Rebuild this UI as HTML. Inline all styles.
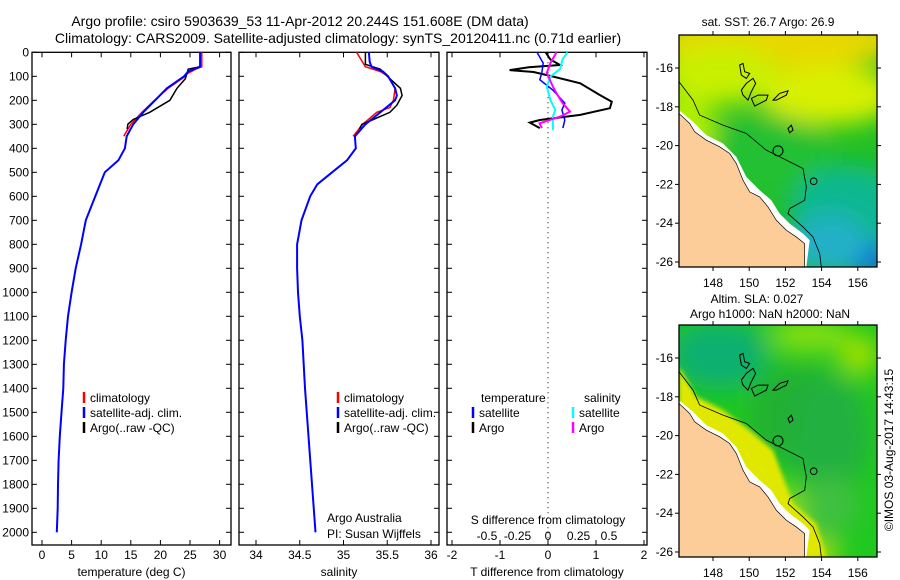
<!DOCTYPE html>
<html><head><meta charset="utf-8">
<style>
html,body{margin:0;padding:0;background:#fff;}
svg{display:block;font-family:"Liberation Sans",sans-serif;}
</style></head>
<body>
<svg id="fig" width="900" height="580" viewBox="0 0 900 580" xmlns="http://www.w3.org/2000/svg">
<defs>
<filter id="blur" x="-50%" y="-50%" width="200%" height="200%"><feGaussianBlur stdDeviation="12"/></filter>
<filter id="blur2" x="-50%" y="-50%" width="200%" height="200%"><feGaussianBlur stdDeviation="6"/></filter>
<clipPath id="clipTop"><rect x="679" y="35" width="198" height="232"/></clipPath>
<clipPath id="clipBot"><rect x="679" y="325" width="198" height="232"/></clipPath>
</defs>
<text x="300" y="26" font-size="14" text-anchor="middle">Argo profile: csiro 5903639_53 11-Apr-2012 20.244S 151.608E (DM data)</text>
<text x="338" y="43" font-size="14" text-anchor="middle">Climatology: CARS2009. Satellite-adjusted climatology: synTS_20120411.nc (0.71d earlier)</text>
<g id="panels"></g>
<g id="maps"></g>
<text transform="translate(893,450) rotate(-90)" font-size="12" text-anchor="middle">©IMOS 03-Aug-2017 14:43:15</text>
</svg>
<script>
// ---------- data ----------
const depthTicks=[0,100,200,300,400,500,600,700,800,900,1000,1100,1200,1300,1400,1500,1600,1700,1800,1900,2000];
const tempTicks=[0,5,10,15,20,25,30];
const salTicks=[34,34.5,35,35.5,36];
const tdiffTicks=[-2,-1,0,1,2];
const sdiffTicks=[-0.5,-0.25,0,0.25,0.5];

const tempSatDepth=[0,60,80,100,150,200,250,300,350,400,450,500,600,700,800,900,1000,1100,1200,1300,1400,1500,1600,1700,1800,1900,2000];
const tempSatVal=[26.7,26.7,24.7,24.0,21.1,19.1,17.1,15.4,14.3,14.0,12.9,10.6,9.0,7.4,6.6,5.7,5.0,4.4,4.0,3.7,3.6,3.3,3.0,2.8,2.7,2.65,2.5];
const tempClimDepth=[0,60,70,90,100,150,200,250,300,350];
const tempClimVal=[27.0,27.0,26.0,24.5,24.2,21.3,19.0,16.9,15.0,13.8];
const tempArgoDepth=[0,60,70,110,150,200,250,280,300,320];
const tempArgoVal=[26.7,26.7,24.7,24.2,22.8,21.6,18.2,15.4,14.5,14.4];

const salSatDepth=[0,40,60,80,100,150,180,200,250,300,350,400,450,500,550,600,700,800,900,1000,1100,1200,1400,1600,1800,2000];
const salSatVal=[35.29,35.3,35.32,35.45,35.51,35.59,35.61,35.59,35.42,35.25,35.13,35.14,35.04,34.87,34.7,34.62,34.52,34.47,34.47,34.48,34.5,34.53,34.56,34.6,34.64,34.68];
const salClimDepth=[0,30,60,80,100,150,200,230,250,300,350];
const salClimVal=[35.15,35.2,35.25,35.42,35.51,35.59,35.57,35.53,35.38,35.22,35.11];
const salArgoDepth=[0,50,70,100,150,180,220,250,280,300,320];
const salArgoVal=[35.25,35.25,35.42,35.5,35.65,35.67,35.61,35.53,35.34,35.21,35.18];

const tdArgoDepth=[0,30,53,62,74,82,101,129,178,206,233,261,282,293,316];
const tdArgoVal=[-0.05,0.05,0.25,-0.4,-0.8,-0.3,0.1,0.67,1.08,1.33,1.29,0.67,-0.17,-0.38,-0.17];
const tdSatDepth=[0,45,86,114,157,212,240,282,316];
const tdSatVal=[-0.23,-0.1,-0.13,-0.17,0.1,0.35,0.29,0.35,0.31];
const sdArgoDepth=[0,45,86,143,171,212,247,268,296,316];
const sdArgoVal=[0.07,0.02,-0.01,0.04,0.07,0.12,0.18,0.1,-0.07,-0.05];
const sdSatDepth=[0,28,69,101,143,199,240,268,324];
const sdSatVal=[0.16,0.12,0.1,0.02,-0.01,0.02,0.06,0.04,0.04];

const mapLonTicks=[148,150,152,154,156];
const mapLatTicks=[-16,-18,-20,-22,-24,-26];

// ---------- helpers ----------
const NS='http://www.w3.org/2000/svg';
function mk(tag,attrs,parent){const e=document.createElementNS(NS,tag);for(const k in attrs)e.setAttribute(k,attrs[k]);parent.appendChild(e);return e;}
const panels=document.getElementById('panels');
const TOP=52.3, BOT=545, PXD=0.24;
const yD=d=>TOP+d*PXD;

function drawPanel(name,x0,x1,xs,ticks,labelFmt,xtitle,showY){
  const g=mk('g',{},panels);
  
  
  const r=mk('rect',{x:x0,y:TOP,width:x1-x0,height:BOT-TOP,fill:'none',stroke:'#000','stroke-width':1.3},g);
  
  
  depthTicks.forEach(d=>{
    mk('line',{x1:x0,x2:x0+5,y1:yD(d),y2:yD(d),stroke:'#000'},g);
    mk('line',{x1:x1-5,x2:x1,y1:yD(d),y2:yD(d),stroke:'#000'},g);
    if(showY){const t=mk('text',{x:x0-3,y:yD(d)+4,'font-size':12,'text-anchor':'end'},g);t.textContent=d;
      
      }
  });
  ticks.forEach(v=>{
    const x=xs(v);
    mk('line',{x1:x,x2:x,y1:BOT-5,y2:BOT,stroke:'#000'},g);
    mk('line',{x1:x,x2:x,y1:TOP,y2:TOP+5,stroke:'#000'},g);
    const t=mk('text',{x:x,y:559,'font-size':12,'text-anchor':'middle'},g);t.textContent=labelFmt(v);
    
    
  });
  const tt=mk('text',{x:(x0+x1)/2,y:576,'font-size':12,'text-anchor':'middle'},g);tt.textContent=xtitle;
  
  
  return g;
}
function line(g,xs,dep,val,color,w,name){
  const p=dep.map((d,i)=>xs(val[i]).toFixed(1)+','+yD(d).toFixed(1)).join(' ');
  const e=mk('polyline',{points:p,fill:'none',stroke:color,'stroke-width':w},g);
  
  
}
function legend(g,x,y,color,label,name){
  mk('line',{x1:x,x2:x,y1:y-10,y2:y+1,stroke:color,'stroke-width':2.5},g);
  const t=mk('text',{x:x+6,y:y,'font-size':12},g);t.textContent=label;
  
  
}

// temperature panel
const xT=v=>42+v*5.92;
const gT=drawPanel('temperature',32,231,xT,tempTicks,v=>v,'temperature (deg C)',true);
line(gT,xT,tempClimDepth,tempClimVal,'#f00',1.5,'temp-climatology-line');
line(gT,xT,tempArgoDepth,tempArgoVal,'#000',1.5,'temp-argo-line');
line(gT,xT,tempSatDepth,tempSatVal,'#00f',2,'temp-satellite-line');
legend(gT,84,402,'#f00','climatology','legend-climatology');
legend(gT,84,417,'#00f','satellite-adj. clim.','legend-satellite');
legend(gT,84,432,'#000','Argo(..raw -QC)','legend-argo');

// salinity panel
const xS=v=>256+(v-34)*87.5;
const gS=drawPanel('salinity',239,439,xS,salTicks,v=>v,'salinity',false);
line(gS,xS,salClimDepth,salClimVal,'#f00',1.5,'sal-climatology-line');
line(gS,xS,salArgoDepth,salArgoVal,'#000',1.5,'sal-argo-line');
line(gS,xS,salSatDepth,salSatVal,'#00f',2,'sal-satellite-line');
legend(gS,338,402,'#f00','climatology','legend-climatology');
legend(gS,338,417,'#00f','satellite-adj. clim.','legend-satellite');
legend(gS,338,432,'#000','Argo(..raw -QC)','legend-argo');
[['Argo Australia',522],['PI: Susan Wijffels',538]].forEach(([s,y])=>{const t=mk('text',{x:327,y:y,'font-size':12},gS);t.textContent=s;
  
  });

// difference panel
const xTD=v=>548+v*48, xSD=v=>548+v*122;
const gD=drawPanel('difference',447,647,xTD,tdiffTicks,v=>v,'T difference from climatology',false);
mk('line',{x1:548,x2:548,y1:TOP,y2:BOT,stroke:'#000','stroke-dasharray':'1,4'},gD);
sdiffTicks.forEach(v=>{const t=mk('text',{x:xSD(v),y:540,'font-size':12,'text-anchor':'middle'},gD);t.textContent=v;
  
  });
const st=mk('text',{x:548,y:524,'font-size':12,'text-anchor':'middle'},gD);st.textContent='S difference from climatology';


line(gD,xTD,tdArgoDepth,tdArgoVal,'#000',2,'tdiff-argo-line');
line(gD,xTD,tdSatDepth,tdSatVal,'#00f',1.5,'tdiff-satellite-line');
line(gD,xSD,sdSatDepth,sdSatVal,'#0ff',2,'sdiff-satellite-line');
line(gD,xSD,sdArgoDepth,sdArgoVal,'#f0f',2,'sdiff-argo-line');
const th=mk('text',{x:481,y:402,'font-size':12},gD);th.textContent='temperature';


const sh=mk('text',{x:584,y:402,'font-size':12},gD);sh.textContent='salinity';


legend(gD,473,417,'#00f','satellite','legend-t-satellite');
legend(gD,473,432,'#000','Argo','legend-t-argo');
legend(gD,573,417,'#0ff','satellite','legend-s-satellite');
legend(gD,573,432,'#f0f','Argo','legend-s-argo');

// ---------- maps ----------
const maps=document.getElementById('maps');
const coast="118,340 150,370 165,395 200,420 240,440 270,460 290,490 310,540 330,575 360,590 385,620 410,660 440,690 470,710 495,730 495,800 118,800";
const whiteBand="118,330 160,365 200,405 250,430 290,470 320,530 360,570 395,600 420,640 450,670 490,700 510,720 500,800 495,800 495,730 470,710 440,690 410,660 385,620 360,590 330,575 310,540 290,490 270,460 240,440 200,420 165,395 150,370 118,340";
const coastBand="118,230 170,320 250,360 330,420 400,480 430,560 460,640 530,700 560,800 118,800";
const contour="118,245 160,300 180,345 250,375 320,400 380,450 440,480 490,505 500,560 495,600 450,625 445,640 490,680 520,710 540,760 545,800";
const reefs=["300,195 310,190 315,215 330,220 320,235 305,225","305,270 320,250 340,235 348,250 335,275 325,300 310,285","335,295 355,285 385,285 380,300 345,318","400,300 420,280 445,272 440,285 410,300","445,385 455,375 460,390 450,398"];
function drawMap(y0,clip,blobs,name,titles,band){
  const g=mk('g',{},maps);
  
  
  const inner=mk('g',{'clip-path':'url(#'+clip+')'},g);
  mk('rect',{x:679,y:y0,width:198,height:232,fill:blobs[0]},inner);
  const bg=mk('g',{filter:'url(#blur)'},inner);
  blobs.slice(1).forEach(b=>mk('ellipse',{cx:679+b[0],cy:y0+b[1],rx:b[2],ry:b[3],fill:b[4]},bg));
  const s=mk('svg',{x:679,y:y0,width:198,height:232,viewBox:'118 105 594 695',preserveAspectRatio:'none'},inner);
  if(band){const bb=mk('polygon',{points:coastBand,fill:band,filter:'url(#blur2)'},s);}
  mk('polygon',{points:whiteBand,fill:'#fff'},s);
  mk('polygon',{points:coast,fill:'#fccc99',stroke:'#000','stroke-width':2},s);
  mk('polyline',{points:contour,fill:'none',stroke:'#000','stroke-width':2.5},s);
  reefs.forEach(r=>mk('polygon',{points:r,fill:'none',stroke:'#000','stroke-width':3},s));
  mk('circle',{cx:415,cy:452,r:15,fill:'none',stroke:'#000','stroke-width':3},s);
  mk('circle',{cx:522,cy:543,r:10,fill:'none',stroke:'#000','stroke-width':3},s);
  const fr=mk('rect',{x:679,y:y0,width:198,height:232,fill:'none',stroke:'#000','stroke-width':1.3},g);
  
  
  mapLonTicks.forEach(lon=>{const x=713+(lon-148)*18.1;
    mk('line',{x1:x,x2:x,y1:y0-4,y2:y0,stroke:'#000'},g);
    mk('line',{x1:x,x2:x,y1:y0+232,y2:y0+236,stroke:'#000'},g);
    const t=mk('text',{x:x,y:y0+252,'font-size':12,'text-anchor':'middle'},g);t.textContent=lon;
    
    });
  mapLatTicks.forEach(lat=>{const y=y0+33+(-16-lat)*19.4;
    mk('line',{x1:675,x2:679,y1:y,y2:y,stroke:'#000'},g);
    mk('line',{x1:877,x2:881,y1:y,y2:y,stroke:'#000'},g);
    const t=mk('text',{x:673,y:y+4,'font-size':12,'text-anchor':'end'},g);t.textContent=lat;
    
    });
  titles.forEach(([s,x,y])=>{const t=mk('text',{x:x,y:y,'font-size':12,'text-anchor':'middle'},g);t.textContent=s;
    
    });
}
drawMap(35,'clipTop',['#22c022',
  [100,5,130,30,'#e8d800'],[40,40,60,30,'#c8f000'],[150,60,70,30,'#d8f000'],[0,95,40,30,'#b0f000'],
  [90,120,60,40,'#20c030'],[170,180,60,50,'#10b890'],[185,225,30,18,'#1060e0'],[150,210,40,30,'#20b0c8']],
  'sst-map',[['sat. SST: 26.7 Argo: 26.9',768,26]],null);
drawMap(325,'clipBot',['#20c820',
  [40,30,50,35,'#10b070'],[120,90,50,50,'#20b030'],[130,10,40,15,'#90e010'],
  [150,110,40,60,'#20b040'],[180,30,20,20,'#a0e000'],[150,180,30,30,'#40c040'],[130,230,30,15,'#c0e000'],[100,190,25,30,'#90e010']],
  'sla-map',[['Altim. SLA: 0.027',757,303],['Argo h1000: NaN h2000: NaN',770,318]],'#e0e800');
</script>
</body></html>
